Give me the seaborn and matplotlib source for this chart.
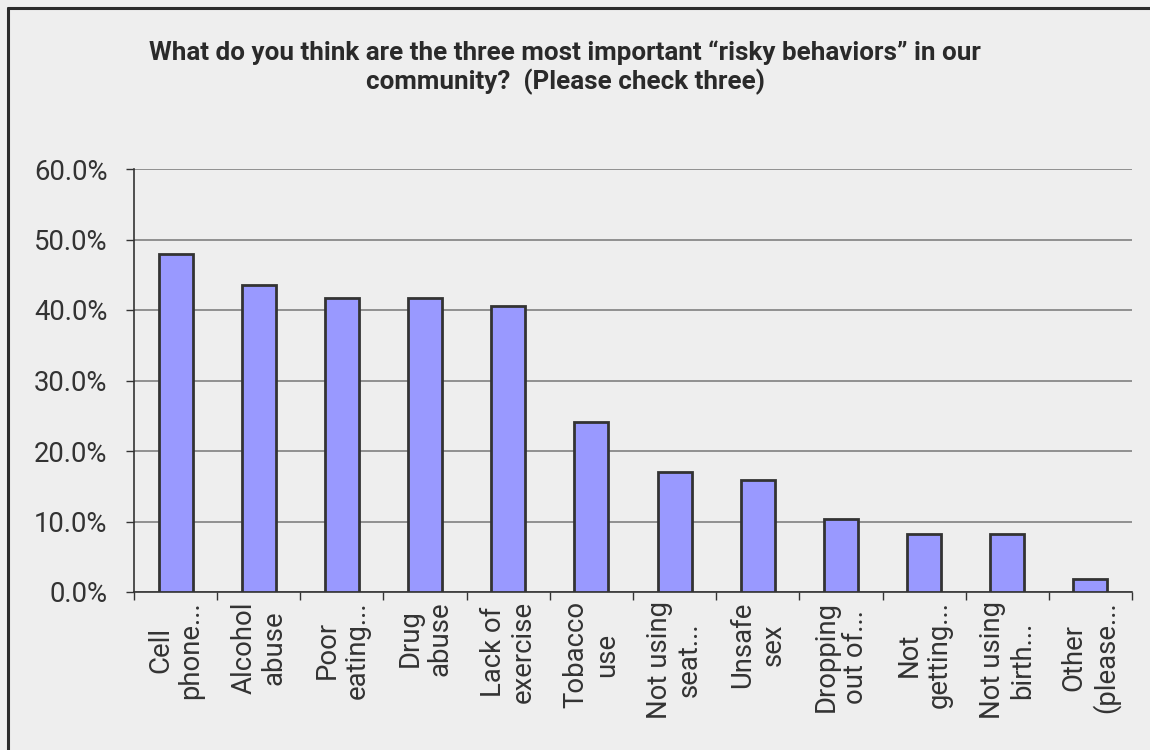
import matplotlib
matplotlib.use("Agg")
import matplotlib.pyplot as plt
import seaborn as sns
import pandas as pd
from matplotlib.lines import Line2D
from matplotlib.ticker import FuncFormatter, MultipleLocator

categories = [
    "Cell\nphone...", "Alcohol\nabuse", "Poor\neating...", "Drug\nabuse",
    "Lack of\nexercise", "Tobacco\nuse", "Not using\nseat...", "Unsafe\nsex",
    "Dropping\nout of...", "Not\ngetting...", "Not using\nbirth...", "Other\n(please...",
]
percentages = [48.0, 43.5, 41.7, 41.7, 40.6, 24.1, 17.0, 15.9, 10.3, 8.2, 8.2, 1.8]

title = ("What do you think are the three most important \u201crisky behaviors\u201d in our\n"
         "community?  (Please check three)")

sns.set_theme(style="white")
plt.rcParams["font.family"] = ["Roboto", "DejaVu Sans"]

bg = "#eeeeee"
ink = "#333333"
fig = plt.figure(figsize=(11.5, 7.5), dpi=100, facecolor=bg)
ax = fig.add_axes([134 / 1150, 1 - 592 / 750, (1132 - 134) / 1150, (592 - 169) / 750])
ax.set_facecolor(bg)

df = pd.DataFrame({"behavior": categories, "pct": percentages})
sns.barplot(data=df, x="behavior", y="pct", color="#9999ff", saturation=1,
            edgecolor=ink, linewidth=2, width=0.41, ax=ax, zorder=3)

ax.set_ylim(0, 60)
ax.set_xlim(-0.5, len(categories) - 0.5)
ax.yaxis.set_major_locator(MultipleLocator(10))
ax.yaxis.set_major_formatter(FuncFormatter(lambda v, _: f"{v:.1f}%"))
ax.grid(axis="y", color="#808080", linewidth=1.2, zorder=0)
ax.set_axisbelow(True)

for s in ["top", "right"]:
    ax.spines[s].set_visible(False)
for s in ["left", "bottom"]:
    ax.spines[s].set_color(ink)
    ax.spines[s].set_linewidth(1.2)

ax.set_xlabel("")
ax.set_ylabel("")
ax.tick_params(axis="y", which="major", left=True, length=6, width=1, color=ink,
               labelsize=19.8, labelcolor=ink, pad=13)

# category boundaries carry the x ticks; labels sit at bar centres
ax.set_xticks([i - 0.5 for i in range(len(categories) + 1)], minor=False)
ax.set_xticklabels([])
ax.tick_params(axis="x", which="major", bottom=True, length=6, width=1, color=ink)
for i, lab in enumerate(categories):
    ax.text(i, -1.3, lab, rotation=90, ha="center", va="top", multialignment="center",
            fontsize=19.8, color=ink, transform=ax.transData, linespacing=1.15)

fig.text(565 / 1150, 1 - 40 / 750, title, ha="center", va="top", fontsize=18.7,
         fontweight="bold", color="#2a2a2a", linespacing=1.18)

# frame along the top and left edges
fig.lines.append(Line2D([8 / 1150, 1], [1 - 8 / 750, 1 - 8 / 750], transform=fig.transFigure,
                        color="#2a2a2a", linewidth=2.2))
fig.lines.append(Line2D([8 / 1150, 8 / 1150], [0, 1 - 8 / 750], transform=fig.transFigure,
                        color="#2a2a2a", linewidth=2.2))

fig.savefig("out.png", dpi=100, facecolor=bg)
